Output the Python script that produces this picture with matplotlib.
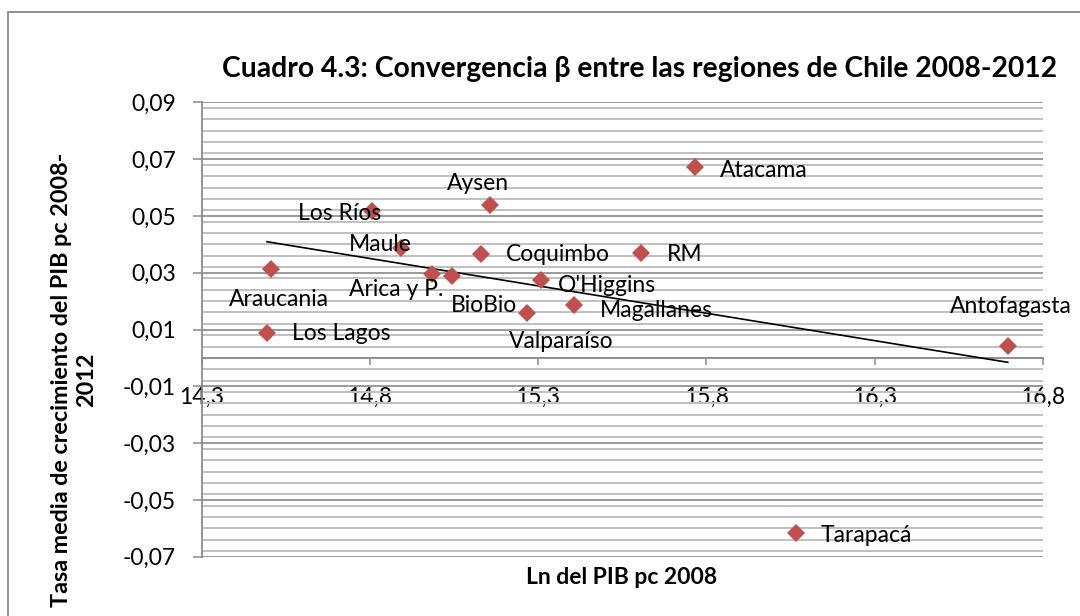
import numpy as np
import matplotlib
matplotlib.use("Agg")
import matplotlib.pyplot as plt
from matplotlib.ticker import MultipleLocator, FuncFormatter
from matplotlib.patches import Rectangle

# ---- data ----
regions = ["Araucania", "Los Lagos", "Los Ríos", "Maule", "Arica y P.", "BioBio",
           "Aysen", "Coquimbo", "O'Higgins", "Valparaíso", "Magallanes", "RM",
           "Atacama", "Antofagasta", "Tarapacá"]
ln_pib_2008 = [14.505, 14.494, 14.807, 14.892, 14.984, 15.043,
               15.157, 15.129, 15.309, 15.268, 15.407, 15.606,
               15.766, 16.696, 16.067]
tasa_crec = [0.0312, 0.0089, 0.0518, 0.0388, 0.0294, 0.0289,
             0.0538, 0.0366, 0.0274, 0.0159, 0.0186, 0.0368,
             0.0671, 0.0042, -0.0618]

title = "Cuadro 4.3: Convergencia β entre las regiones de Chile 2008-2012"
xlabel = "Ln del PIB pc 2008"
ylabel = "Tasa media de crecimiento del PIB pc 2008-\n2012"

# label placement (offset in pixels, horizontal alignment)
label_pos = {
    "Araucania": (8, -30, "center"),
    "Los Lagos": (25, -1, "left"),
    "Los Ríos": (9, -3, "right"),
    "Maule": (11, 3, "right"),
    "Arica y P.": (12, -15, "right"),
    "BioBio": (32, -30, "center"),
    "Aysen": (-12, 22, "center"),
    "Coquimbo": (25, -1, "left"),
    "O'Higgins": (17, -5, "left"),
    "Valparaíso": (34, -29, "center"),
    "Magallanes": (26, -5, "left"),
    "RM": (26, -1, "left"),
    "Atacama": (25, -3, "left"),
    "Antofagasta": (3, 39, "center"),
    "Tarapacá": (25, -2, "left"),
}

FONT = ["Lato", "DejaVu Sans"]
plt.rcParams["font.family"] = FONT

fig = plt.figure(figsize=(10.8, 6.16), dpi=100)
fig.patches.append(Rectangle((8 / 1080, -0.05), 1.2, (616 - 12) / 616 + 0.05,
                             transform=fig.transFigure, fill=False,
                             edgecolor="#8a8a8a", linewidth=1.3))
ax = fig.add_axes([201.7 / 1080, 59.3 / 616, 841 / 1080, 454.4 / 616])

ax.set_xlim(14.3, 16.8)
ax.set_ylim(-0.07, 0.09)

ax.yaxis.set_major_locator(MultipleLocator(0.02))
ax.yaxis.set_minor_locator(MultipleLocator(0.004))
ax.set_yticks(np.arange(-0.07, 0.0901, 0.02))
ax.set_xticks(np.arange(14.3, 16.801, 0.5))
fmt = lambda d: FuncFormatter(lambda v, p: f"{v:.{d}f}".replace(".", ","))
ax.yaxis.set_major_formatter(fmt(2))
ax.xaxis.set_major_formatter(fmt(1))

ax.grid(axis="y", which="minor", color="#c0c0c0", linewidth=1.4, zorder=0)
ax.grid(axis="y", which="major", color="#888888", linewidth=1.2, zorder=0)
ax.set_axisbelow(True)

for s in ["top", "right"]:
    ax.spines[s].set_visible(False)
ax.spines["left"].set_color("#8a8a8a")
ax.spines["left"].set_linewidth(1.3)
ax.spines["bottom"].set_position(("data", 0))
ax.spines["bottom"].set_color("#8a8a8a")
ax.spines["bottom"].set_linewidth(1.3)

ax.tick_params(axis="y", which="major", direction="out", length=6.5, width=1.1,
               color="#8a8a8a", pad=12, labelsize=16.5)
ax.tick_params(axis="y", which="minor", length=0)
ax.tick_params(axis="x", which="major", direction="out", length=5, width=1.1,
               color="#8a8a8a", pad=16, labelsize=16.5)

# trend line (OLS)
xs = np.array(ln_pib_2008)
ys = np.array(tasa_crec)
b, a = np.polyfit(xs, ys, 1)
xl = np.array([xs.min(), xs.max()])
ax.plot(xl, a + b * xl, color="black", linewidth=1.2, zorder=3)

ax.plot(xs, ys, linestyle="none", marker="D", markersize=9.5,
        markerfacecolor="#C0504D", markeredgewidth=0, zorder=4)

for name, x, y in zip(regions, ln_pib_2008, tasa_crec):
    dx, dy, ha = label_pos[name]
    ax.annotate(name, (x, y), xytext=(dx, dy), textcoords="offset pixels",
                ha=ha, va="center", fontsize=16.5, zorder=5)

fig.text(639 / 1080, 1 - 69 / 616, title, ha="center", va="center",
         fontsize=20.3, fontweight="bold")
fig.text(622 / 1080, 1 - 578 / 616, xlabel, ha="center", va="center",
         fontsize=16.5, fontweight="bold")
fig.text(74 / 1080, 1 - 380 / 616, ylabel, ha="center", va="center",
         rotation=90, fontsize=16.8, fontweight="bold", linespacing=1.2)

fig.savefig("out.png", dpi=100)
